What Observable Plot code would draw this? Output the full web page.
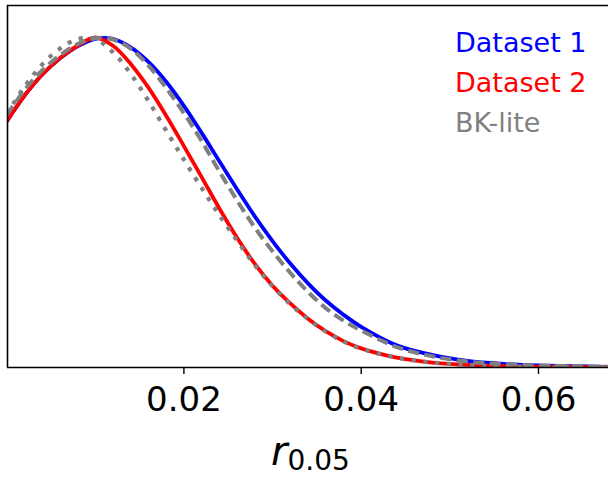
<!DOCTYPE html>
<html><head><meta charset="utf-8">
<script src="https://cdn.jsdelivr.net/npm/d3@7"></script>
<script src="https://cdn.jsdelivr.net/npm/@observablehq/plot@0.6"></script>
<style>body{margin:0;background:#fff} svg{display:block}</style>
</head><body><div id="chart"></div>
<script>
// x grid (r_0.05) and densities (normalised to peak = 1)
const xValues = [0, 0.002, 0.004, 0.006, 0.008, 0.010, 0.012, 0.014, 0.016, 0.018, 0.020,
  0.022, 0.024, 0.026, 0.028, 0.030, 0.032, 0.034, 0.036, 0.038, 0.040,
  0.044, 0.048, 0.052, 0.056, 0.060, 0.064, 0.068];
const dataset1 = [0.745, 0.823, 0.887, 0.936, 0.973, 0.996, 0.996, 0.970, 0.926, 0.866, 0.793,
  0.711, 0.625, 0.540, 0.458, 0.383, 0.315, 0.255, 0.203, 0.160, 0.123,
  0.067, 0.038, 0.020, 0.011, 0.006, 0.004, 0.002];
const dataset2 = [0.745, 0.823, 0.887, 0.937, 0.975, 1.0, 0.975, 0.920, 0.848, 0.763, 0.671,
  0.577, 0.482, 0.393, 0.314, 0.248, 0.194, 0.148, 0.110, 0.080, 0.058,
  0.030, 0.015, 0.008, 0.004, 0.0025, 0.0015, 0.001];
const bkLite1 = [0.765, 0.840, 0.900, 0.946, 0.980, 0.998, 0.994, 0.966, 0.915, 0.847, 0.771,
  0.686, 0.594, 0.506, 0.424, 0.352, 0.287, 0.229, 0.180, 0.142, 0.112,
  0.062, 0.034, 0.018, 0.010, 0.006, 0.004, 0.002];
const bkLite2 = [0.768, 0.850, 0.918, 0.966, 0.995, 0.995, 0.955, 0.890, 0.808, 0.718, 0.630,
  0.544, 0.462, 0.384, 0.310, 0.246, 0.192, 0.147, 0.109, 0.079, 0.057,
  0.030, 0.015, 0.008, 0.004, 0.0025, 0.0015, 0.001];
const xTicks = [0.02, 0.04, 0.06];
const legendLabels = ["Dataset 1", "Dataset 2", "BK-lite"];
const legendColors = ["#0000ff", "#ff0000", "#808080"];

const xDomain = [0.0001, 0.0679];
const yDomain = [0, 1.097];
const rows = vals => xValues.map((x, i) => ({x, y: vals[i]}));
const lineOpts = {x: "x", y: "y", curve: "catmull-rom", clip: true, fill: "none"};

const plot = Plot.plot({
  width: 608, height: 477,
  marginLeft: 7, marginRight: 0, marginTop: 5, marginBottom: 110,
  style: {fontFamily: "DejaVu Sans", background: "white", color: "black"},
  x: {domain: xDomain},
  y: {domain: yDomain, axis: null},
  marks: [
    Plot.lineY(rows(dataset1), {...lineOpts, stroke: "#0000ff", strokeWidth: 3.8}),
    Plot.lineY(rows(dataset2), {...lineOpts, stroke: "#ff0000", strokeWidth: 3.8}),
    Plot.lineY(rows(bkLite1), {...lineOpts, stroke: "#808080", strokeWidth: 4, strokeDasharray: "11,5.5", strokeLinecap: "butt"}),
    Plot.lineY(rows(bkLite2), {...lineOpts, stroke: "#808080", strokeWidth: 4.2, strokeDasharray: "4.2,7.6", strokeLinecap: "butt"}),
    Plot.ruleX([xDomain[0]], {stroke: "black", strokeWidth: 1.6}),
    Plot.ruleY([yDomain[0], yDomain[1]], {stroke: "black", strokeWidth: 1.6}),
    Plot.axisX({ticks: xTicks, tickSize: 7, tickPadding: 12, fontSize: 34, tickFormat: d => d3.format(".2f")(d), label: null, strokeWidth: 1.4})
  ]
});

const svg = d3.select(plot);
// x label r_{0.05}
const lab = svg.append("text").attr("x", 271).attr("y", 465)
  .attr("text-anchor", "start")
  .attr("font-family", "DejaVu Sans").attr("fill", "black");
lab.append("tspan").attr("font-size", 40).attr("font-style", "italic").text("r");
lab.append("tspan").attr("font-size", 28).attr("dy", 5).text("0.05");
// legend
legendLabels.forEach((t, i) => {
  svg.append("text").attr("x", 455).attr("y", 52 + i * 40)
    .attr("text-anchor", "start")
    .attr("font-family", "DejaVu Sans").attr("font-size", 27)
    .attr("fill", legendColors[i]).text(t);
});
document.getElementById("chart").appendChild(plot);
</script>
</body></html>
